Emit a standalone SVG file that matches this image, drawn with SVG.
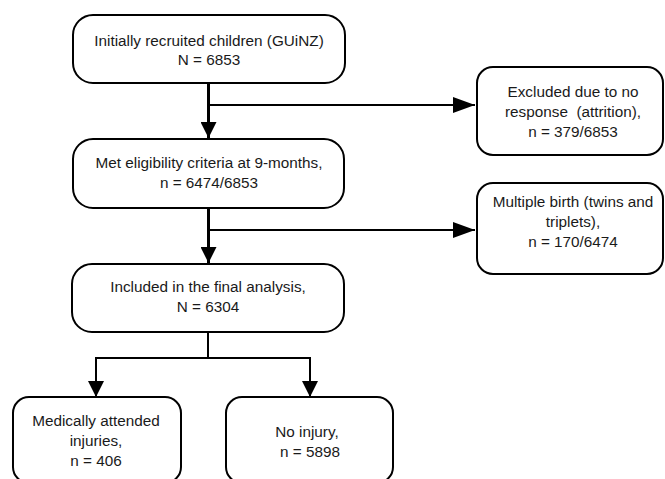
<svg xmlns="http://www.w3.org/2000/svg" width="665" height="479" viewBox="0 0 665 479">
<defs>
<style>
.box{fill:#fff;stroke:#000;stroke-width:2}
.t{font-family:"Liberation Sans",Arial,sans-serif;font-size:15.3px;fill:#1a1a1a;text-anchor:middle}
.ln{stroke:#000;fill:none}
</style>
<marker id="ahd" viewBox="0 0 16 16" refX="16" refY="8" markerWidth="16" markerHeight="16" markerUnits="userSpaceOnUse" orient="auto">
<path d="M0,0 L16,8 L0,16 Z" fill="#000"/>
</marker>
<marker id="ahr" viewBox="0 0 22 16" refX="22" refY="8" markerWidth="22" markerHeight="16" markerUnits="userSpaceOnUse" orient="auto">
<path d="M0,0 L22,8 L0,16 Z" fill="#000"/>
</marker>
</defs>
<g id="connectors">
<path class="ln" stroke-width="3" d="M208.5,83 V138" marker-end="url(#ahd)"/>
<path class="ln" stroke-width="2" d="M208.5,105 H475" marker-end="url(#ahr)"/>
<path class="ln" stroke-width="3" d="M208.5,208 V263" marker-end="url(#ahd)"/>
<path class="ln" stroke-width="2" d="M208.5,230 H475" marker-end="url(#ahr)"/>
<path class="ln" stroke-width="2" d="M208,332 V358 M96,358 H310"/>
<path class="ln" stroke-width="2" d="M96,357 V397" marker-end="url(#ahd)"/>
<path class="ln" stroke-width="2" d="M310,357 V397" marker-end="url(#ahd)"/>
</g>
<g id="n1">
<rect class="box" x="73" y="15" width="272" height="68" rx="20"/>
<text class="t" x="209" y="46">Initially recruited children (GUiNZ)</text>
<text class="t" x="209" y="65">N = 6853</text>
</g>
<g id="n2">
<rect class="box" x="73" y="139" width="271" height="69" rx="20"/>
<text class="t" x="209" y="168">Met eligibility criteria at 9-months,</text>
<text class="t" x="209" y="188">n = 6474/6853</text>
</g>
<g id="n3">
<rect class="box" x="72" y="264" width="272" height="68" rx="20"/>
<text class="t" x="208" y="292">Included in the final analysis,</text>
<text class="t" x="208" y="312">N = 6304</text>
</g>
<g id="n4">
<rect class="box" x="477" y="67" width="186" height="88" rx="16"/>
<text class="t" x="573" y="97">Excluded due to no</text>
<text class="t" x="573" y="117" xml:space="preserve">response  (attrition),</text>
<text class="t" x="573" y="137">n = 379/6853</text>
</g>
<g id="n5">
<rect class="box" x="477" y="183" width="186" height="91" rx="16"/>
<text class="t" x="573" y="207">Multiple birth (twins and</text>
<text class="t" x="573" y="227">triplets),</text>
<text class="t" x="573" y="247">n = 170/6474</text>
</g>
<g id="n6">
<rect class="box" x="13" y="397" width="168" height="86" rx="16"/>
<text class="t" x="96" y="426">Medically attended</text>
<text class="t" x="96" y="446">injuries,</text>
<text class="t" x="96" y="466">n = 406</text>
</g>
<g id="n7">
<rect class="box" x="226" y="397" width="167" height="86" rx="16"/>
<text class="t" x="307" y="437">No injury,</text>
<text class="t" x="310" y="457">n = 5898</text>
</g>
</svg>
